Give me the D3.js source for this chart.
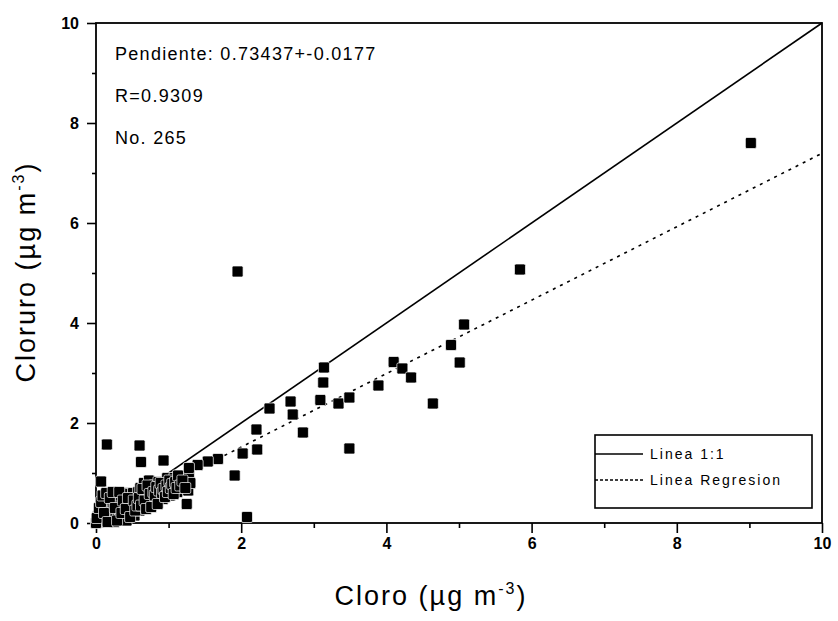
<!DOCTYPE html>
<html>
<head>
<meta charset="utf-8">
<script src="https://cdn.jsdelivr.net/npm/d3@7"></script>
<style>
  body { margin: 0; background: #fff; }
  text { font-family: "Liberation Sans", Arial, sans-serif; fill: #000; }
</style>
</head>
<body>
<div id="chart"></div>
<script>
// scatter values (ug m-3)
const cloroOut   = [0.15, 0.60, 0.62, 0.93, 1.91, 2.08, 2.02, 2.21, 2.22, 1.68, 1.54, 1.40, 1.28, 1.95, 2.39, 2.68, 2.71, 2.85, 3.09, 3.13, 3.14, 3.34, 3.49, 3.49, 3.89, 4.10, 4.22, 4.34, 4.64, 4.89, 5.01, 5.07, 5.84, 9.02];
const cloruroOut = [1.57, 1.55, 1.22, 1.25, 0.95, 0.12, 1.39, 1.87, 1.47, 1.28, 1.23, 1.16, 1.10, 5.03, 2.29, 2.43, 2.17, 1.81, 2.46, 2.81, 3.11, 2.39, 2.51, 1.49, 2.75, 3.22, 3.09, 2.91, 2.39, 3.56, 3.21, 3.97, 5.07, 7.6];

// dense cluster near the origin
const cloroLow = [0.02,0.03,0.05,0.06,0.08,0.10,0.12,0.13,0.15,0.17,0.18,0.20,0.21,0.22,0.24,0.25,0.27,0.28,0.30,0.31,0.33,0.34,0.36,0.38,0.39,0.40,0.42,0.43,0.45,0.46,0.48,0.50,0.51,0.53,0.55,0.56,0.58,0.60,0.61,0.63,0.65,0.66,0.68,0.70,0.72,0.73,0.75,0.77,0.78,0.80,0.82,0.84,0.86,0.88,0.90,0.92,0.94,0.96,0.98,1.00,1.02,1.04,1.06,1.08,1.10,1.12,1.15,1.18,1.20,1.22,1.25,1.27,1.28,1.30,
  0.00,0.01,0.04,0.07,0.07,0.09,0.11,0.14,0.16,0.19,0.23,0.26,0.29,0.32,0.35,0.37,0.41,0.44,0.47,0.52,0.54,0.57,0.59,0.62,0.64,0.67,0.69,0.71,0.74,0.76,0.79,0.81,0.83,0.85,0.87,0.89,0.91,0.93,0.95,0.97,0.99,1.01,1.03,1.05,1.07,1.09,1.11,1.13,1.16,1.19,1.23];
const cloruroLow = [0.05,0.15,0.02,0.22,0.10,0.30,0.05,0.18,0.40,0.12,0.28,0.08,0.45,0.20,0.35,0.02,0.15,0.52,0.25,0.40,0.10,0.55,0.30,0.18,0.48,0.60,0.05,0.36,0.22,0.58,0.42,0.30,0.60,0.15,0.50,0.38,0.62,0.25,0.70,0.45,0.55,0.80,0.35,0.62,0.50,0.85,0.40,0.68,0.55,0.75,0.45,0.62,0.82,0.55,0.70,0.48,0.78,0.62,0.90,0.72,0.55,0.82,0.68,0.90,0.75,0.62,0.85,0.70,0.95,0.78,0.38,0.65,1.00,0.80,
  0.00,0.10,0.30,0.42,0.83,0.55,0.20,0.60,0.02,0.50,0.62,0.30,0.05,0.62,0.20,0.45,0.28,0.50,0.12,0.45,0.25,0.35,0.50,0.35,0.68,0.45,0.28,0.75,0.58,0.32,0.62,0.55,0.72,0.38,0.65,0.80,0.60,0.68,0.52,0.75,0.62,0.85,0.70,0.78,0.58,0.82,0.70,0.95,0.75,0.85,0.70];

const slope = 0.73437, intercept = 0.05;
const xTicks = [0, 2, 4, 6, 8, 10];
const yTicks = [0, 2, 4, 6, 8, 10];
const minorTicks = [1, 3, 5, 7, 9];
const notes = ["Pendiente: 0.73437+-0.0177", "R=0.9309", "No. 265"];
const legendItems = ["Linea 1:1", "Linea Regresion"];

const W = 838, H = 621;
const pLeft = 96, pRight = 822, pTop = 23, pBottom = 523;

const svg = d3.select("#chart").append("svg")
  .attr("width", W).attr("height", H)
  .style("background", "#fff");

const x = d3.scaleLinear().domain([0, 10]).range([pLeft, pRight]);
const y = d3.scaleLinear().domain([0, 10]).range([pBottom, pTop]);

// axes
svg.append("g").attr("transform", `translate(0,${pBottom})`)
  .call(d3.axisBottom(x).tickValues(xTicks).tickSize(10).tickPadding(5));
svg.append("g").attr("transform", `translate(0,${pBottom})`)
  .call(d3.axisBottom(x).tickValues(minorTicks).tickSize(5).tickFormat(""));
svg.append("g").attr("transform", `translate(${pLeft},0)`)
  .call(d3.axisLeft(y).tickValues(yTicks).tickSize(9).tickPadding(8));
svg.append("g").attr("transform", `translate(${pLeft},0)`)
  .call(d3.axisLeft(y).tickValues(minorTicks).tickSize(4).tickFormat(""));

svg.selectAll(".domain").remove();
svg.selectAll(".tick line").attr("stroke", "#000").attr("stroke-width", 1.6);
svg.selectAll(".tick text")
  .style("font-family", '"Liberation Sans", Arial, sans-serif')
  .style("font-size", "16px").style("font-weight", "bold").attr("fill", "#000");

// frame
svg.append("rect")
  .attr("x", pLeft).attr("y", pTop)
  .attr("width", pRight - pLeft).attr("height", pBottom - pTop)
  .attr("fill", "none").attr("stroke", "#000").attr("stroke-width", 1.8);

// 1:1 line and regression line
svg.append("line")
  .attr("x1", x(0)).attr("y1", y(0)).attr("x2", x(10)).attr("y2", y(10))
  .attr("stroke", "#000").attr("stroke-width", 1.6);
svg.append("line")
  .attr("x1", x(0)).attr("y1", y(intercept)).attr("x2", x(10)).attr("y2", y(intercept + slope * 10))
  .attr("stroke", "#000").attr("stroke-width", 1.6).attr("stroke-dasharray", "3,5");

// points
const pts = cloroLow.map((v, i) => [v, cloruroLow[i]])
  .concat(cloroOut.map((v, i) => [v, cloruroOut[i]]));
const s = 11;
svg.append("g").selectAll("rect")
  .data(pts).enter().append("rect")
  .attr("x", d => x(d[0]) - s / 2)
  .attr("y", d => y(d[1]) - s / 2)
  .attr("width", s).attr("height", s)
  .attr("rx", 1.5)
  .attr("fill", "#000")
  .attr("stroke", "#fff").attr("stroke-width", 0.7);

// notes
svg.append("g").selectAll("text")
  .data(notes).enter().append("text")
  .attr("x", 115)
  .attr("y", (d, i) => 60 + i * 42)
  .style("font-size", "18px").style("letter-spacing", "1.3px")
  .text(d => d);

// legend
svg.append("rect")
  .attr("x", 595).attr("y", 435).attr("width", 217).attr("height", 73)
  .attr("fill", "#fff").attr("stroke", "#000").attr("stroke-width", 1.6);
const lg = svg.append("g").selectAll("g")
  .data(legendItems).enter().append("g")
  .attr("transform", (d, i) => `translate(595,${454 + i * 26})`);
lg.append("line")
  .attr("x1", 0).attr("x2", 48)
  .attr("stroke", "#000").attr("stroke-width", 1.5)
  .attr("stroke-dasharray", (d, i) => i ? "3,2" : null);
lg.append("text")
  .attr("x", 55).attr("y", 5)
  .style("font-size", "14px").style("letter-spacing", "2px")
  .text(d => d);

// axis titles
const xt = svg.append("text")
  .attr("x", 431).attr("y", 605)
  .attr("text-anchor", "middle")
  .style("font-size", "27px").style("letter-spacing", "2px");
xt.append("tspan").text("Cloro (\u00b5g m");
xt.append("tspan").attr("dy", -11).style("font-size", "16px").text("-3");
xt.append("tspan").attr("dy", 11).text(")");

const yt = svg.append("text")
  .attr("transform", "translate(35,272) rotate(-90)")
  .attr("text-anchor", "middle")
  .style("font-size", "27px").style("letter-spacing", "2px");
yt.append("tspan").text("Cloruro (\u00b5g m");
yt.append("tspan").attr("dy", -11).style("font-size", "16px").text("-3");
yt.append("tspan").attr("dy", 11).text(")");
</script>
</body>
</html>
